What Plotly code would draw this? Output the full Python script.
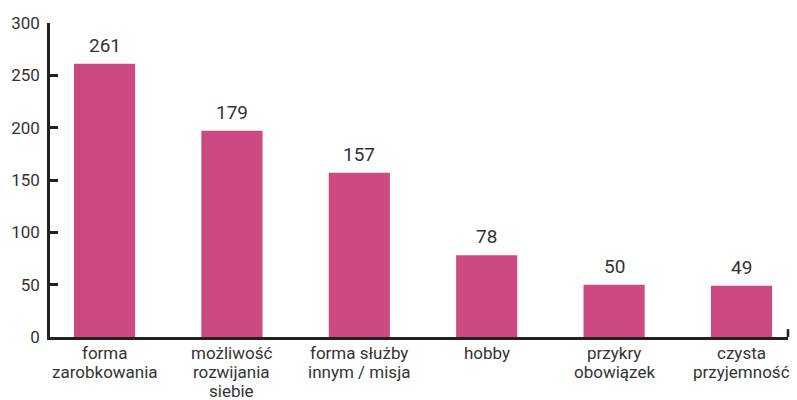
import plotly.graph_objects as go

categories = ["forma<br>zarobkowania", "możliwość<br>rozwijania<br>siebie", "forma służby<br>innym / misja",
              "hobby", "przykry<br>obowiązek", "czysta<br>przyjemność"]
values = [261, 197, 157, 78, 50, 49]
value_labels = ["261", "179", "157", "78", "50", "49"]
y_ticks = [0, 50, 100, 150, 200, 250, 300]

BAR = "#CD4982"
INK = "#333333"
AXIS = "#222222"
FONT = "Roboto"
LINE_GAP = 19

fig = go.Figure()
fig.add_trace(go.Bar(x=list(range(len(categories))), y=values, marker_color=BAR,
                     marker_line_width=0, hoverinfo="skip"))

for i, (v, t) in enumerate(zip(values, value_labels)):
    fig.add_annotation(x=i, y=v, text=t, showarrow=False, yanchor="bottom",
                       yshift=5, font=dict(family=FONT, size=19, color=INK))

# category labels, one annotation per text line for tighter line spacing
for i, cat in enumerate(categories):
    for k, line in enumerate(cat.split("<br>")):
        fig.add_annotation(x=i, xref="x", y=0, yref="paper", text=line, showarrow=False,
                           yanchor="top", yshift=-4 - LINE_GAP * k,
                           font=dict(family=FONT, size=17, color=INK))

fig.add_shape(type="line", xref="paper", yref="paper", x0=1, x1=1, y0=0, y1=0.025,
              line=dict(color=AXIS, width=2.5))

fig.update_layout(
    width=797, height=400,
    margin=dict(l=50, r=9, t=23, b=63),
    paper_bgcolor="white", plot_bgcolor="white",
    bargap=0.52, showlegend=False,
    font=dict(family=FONT, size=17, color=INK),
    xaxis=dict(range=[-0.428, 5.365], tickvals=list(range(len(categories))), showticklabels=False,
               showline=True, linecolor=AXIS, linewidth=2.5, ticks="", showgrid=False,
               zeroline=False, automargin=False),
    yaxis=dict(range=[0, 300], tickvals=y_ticks, showline=True, linecolor=AXIS, linewidth=2.5,
               ticks="inside", ticklen=8, tickwidth=2.5, tickcolor=AXIS, showgrid=False,
               zeroline=False, ticklabelstandoff=4, automargin=False,
               tickfont=dict(family=FONT, size=17, color=INK)),
)

fig.write_html("out.html", config={"displayModeBar": False},
               post_script="document.body.style.margin='0';document.body.style.overflow='hidden';")
